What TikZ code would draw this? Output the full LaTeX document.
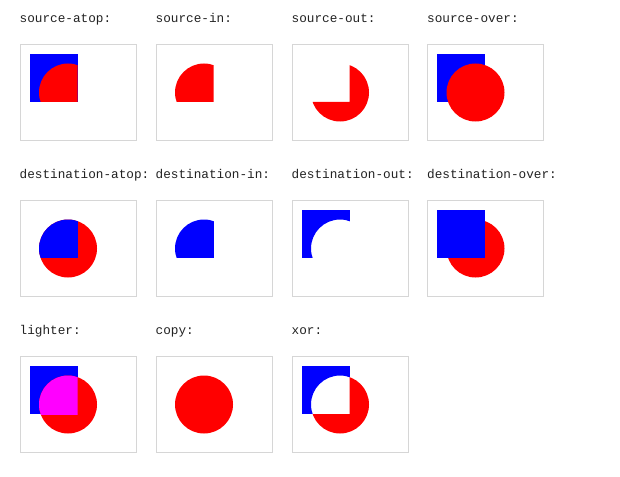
\documentclass[tikz,border=0pt]{standalone}
\usepackage{fontspec}
\setmonofont{Liberation Mono}
\definecolor{bordergray}{HTML}{D6D6D6}
\definecolor{txtgray}{HTML}{222222}
\definecolor{sqblue}{HTML}{0000FF}
\definecolor{cred}{HTML}{FF0000}
\definecolor{mag}{HTML}{FF00FF}
\tikzset{
  sq/.style={insert path={(10,10) rectangle (58,58)}},
  circ/.style={insert path={(48.5,48.5) circle[radius=29pt]}},
  notsq/.style={insert path={(10,10) rectangle (58,58) (-5,-5) rectangle (125,105)}},
  notcirc/.style={insert path={(48.5,48.5) circle[radius=29pt] (-5,-5) rectangle (125,105)}},
  frame/.style={draw=bordergray, line width=1pt, fill=white, minimum width=116pt, minimum height=96pt, inner sep=0pt, anchor=north west},
  lab/.style={anchor=base west, inner sep=0pt, text=txtgray, font=\ttfamily\fontsize{12.7}{14}\selectfont}
}
\begin{document}
\begin{tikzpicture}[x=1pt,y=-1pt]
\useasboundingbox (0,0) rectangle (620,476);
% ---------- row 1 ----------
\node[frame] (b1) at (19.5,44) {};
\node[lab] (l1) at (19.5,22.5) {source-atop:};
\begin{scope}[shift={(19.5,44)}]
  \fill[sqblue,sq];
  \begin{scope}\clip[sq]; \fill[cred,circ]; \end{scope}
\end{scope}
\node[frame] (b2) at (155.5,44) {};
\node[lab] (l2) at (155.5,22.5) {source-in:};
\begin{scope}[shift={(155.5,44)}]
  \begin{scope}\clip[sq]; \fill[cred,circ]; \end{scope}
\end{scope}
\node[frame] (b3) at (291.5,44) {};
\node[lab] (l3) at (291.5,22.5) {source-out:};
\begin{scope}[shift={(291.5,44)}]
  \begin{scope}[even odd rule]\clip[notsq]; \fill[cred,circ]; \end{scope}
\end{scope}
\node[frame] (b4) at (427,44) {};
\node[lab] (l4) at (427,22.5) {source-over:};
\begin{scope}[shift={(427,44)}]
  \fill[sqblue,sq];
  \fill[cred,circ];
\end{scope}
% ---------- row 2 ----------
\node[frame] (b5) at (19.5,200) {};
\node[lab] (l5) at (19.5,178.5) {destination-atop:};
\begin{scope}[shift={(19.5,200)}]
  \fill[cred,circ];
  \begin{scope}\clip[circ]; \fill[sqblue,sq]; \end{scope}
\end{scope}
\node[frame] (b6) at (155.5,200) {};
\node[lab] (l6) at (155.5,178.5) {destination-in:};
\begin{scope}[shift={(155.5,200)}]
  \begin{scope}\clip[circ]; \fill[sqblue,sq]; \end{scope}
\end{scope}
\node[frame] (b7) at (291.5,200) {};
\node[lab] (l7) at (291.5,178.5) {destination-out:};
\begin{scope}[shift={(291.5,200)}]
  \begin{scope}[even odd rule]\clip[notcirc]; \fill[sqblue,sq]; \end{scope}
\end{scope}
\node[frame] (b8) at (427,200) {};
\node[lab] (l8) at (427,178.5) {destination-over:};
\begin{scope}[shift={(427,200)}]
  \fill[cred,circ];
  \fill[sqblue,sq];
\end{scope}
% ---------- row 3 ----------
\node[frame] (b9) at (19.5,356) {};
\node[lab] (l9) at (19.5,334.5) {lighter:};
\begin{scope}[shift={(19.5,356)}]
  \fill[sqblue,sq];
  \fill[cred,circ];
  \begin{scope}\clip[sq]; \fill[mag,circ]; \end{scope}
\end{scope}
\node[frame] (b10) at (155.5,356) {};
\node[lab] (l10) at (155.5,334.5) {copy:};
\begin{scope}[shift={(155.5,356)}]
  \fill[cred,circ];
\end{scope}
\node[frame] (b11) at (291.5,356) {};
\node[lab] (l11) at (291.5,334.5) {xor:};
\begin{scope}[shift={(291.5,356)}]
  \begin{scope}[even odd rule]\clip[notcirc]; \fill[sqblue,sq]; \end{scope}
  \begin{scope}[even odd rule]\clip[notsq]; \fill[cred,circ]; \end{scope}
\end{scope}
\end{tikzpicture}
\end{document}
